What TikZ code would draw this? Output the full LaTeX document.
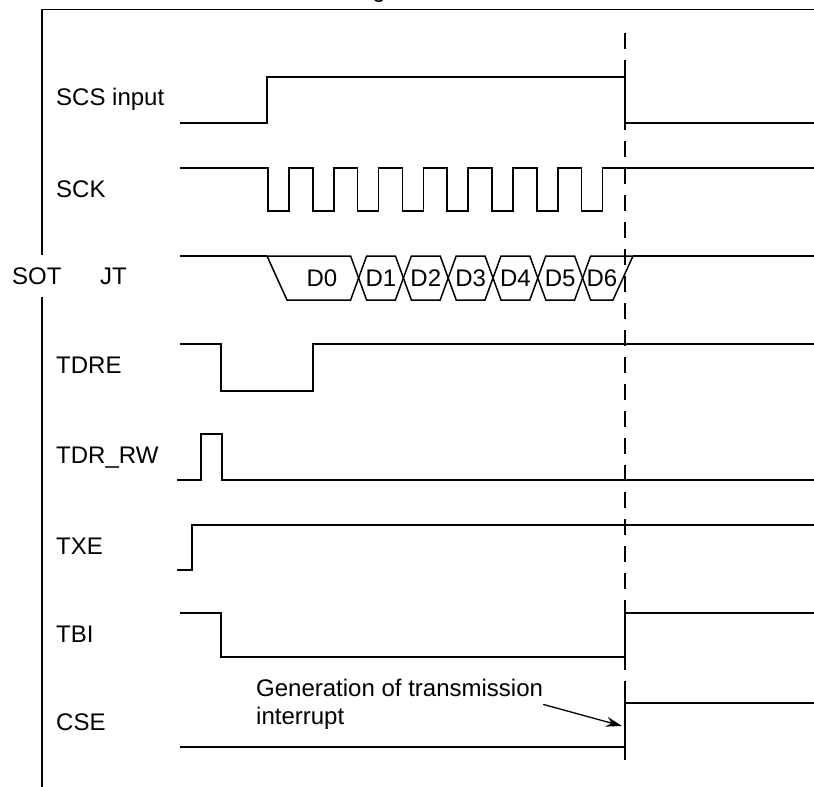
\documentclass[tikz,border=0pt]{standalone}
\usepackage{fontspec}
\setmainfont{Liberation Sans}
\usetikzlibrary{arrows.meta}

\begin{document}
\begin{tikzpicture}[x=1pt,y=-1pt,
  wave/.style={line width=1.5pt,line join=miter},
  lab/.style={anchor=base west,inner sep=0pt,font=\fontsize{24}{28}\selectfont},
  dat/.style={inner sep=0pt,font=\fontsize{24}{28}\selectfont},
]
\clip (0,0) rectangle (814,787);
% frame
\draw[wave] (42,255) -- (42,9.5) -- (814,9.5);
\draw[wave] (42,297) -- (42,787);
\node[dat,anchor=base] (title) at (379,-2) {g};
% end of frame marker
\draw[wave,dash pattern=on 16pt off 11pt] (625,33) -- (625,760);
% signal names
\node[lab] (scs) at (56,105) {SCS input};
\node[lab] (sck) at (56,197) {SCK};
\node[lab] (sot) at (12,284) {SOT};
\node[lab] (sotb) at (100,284) {JT};
\node[lab] (tdre) at (56,373) {TDRE};
\node[lab] (tdrrw) at (56,463) {TDR\_RW};
\node[lab] (txe) at (56,554) {TXE};
\node[lab] (tbi) at (56,642) {TBI};
\node[lab] (cse) at (56,730) {CSE};
% SCS input
\draw[wave] (180,123) -- (267,123) -- (267,77) -- (625,77) -- (625,123) -- (814,123);
% SCK
\draw[wave] (180,168) foreach \i in {0,...,7}{ -- ({268+44.8*\i},168) -- ++(0,43) -- ++(21,0) -- ++(0,-43) } -- (814,168);
% SOT output
\draw[wave] (180,256) -- (267,256);
\draw[wave] (267,256) -- (350.6,256) -- (358.6,278) -- (350.6,300) -- (287,300) -- cycle;
\node[dat] (d0) at (322,278) {D0};
\foreach \j [evaluate=\j as \a using 358.6+44.8*(\j-1), evaluate=\j as \b using 358.6+44.8*\j] in {1,...,5}{
  \draw[wave] (\a,278) -- (\a+8,256) -- (\b-8,256) -- (\b,278) -- (\b-8,300) -- (\a+8,300) -- cycle;
  \node[dat] (d\j) at ({(\a+\b)/2},278) {D\j};
}
\draw[wave] (582.6,278) -- (590.6,256) -- (633,256) -- (613,300) -- (590.6,300) -- cycle;
\node[dat] (d6) at (602,278) {D6};
\draw[wave] (633,256) -- (814,256);
% TDRE
\draw[wave] (180,344) -- (221,344) -- (221,391) -- (313,391) -- (313,344) -- (814,344);
% TDR_RW
\draw[wave] (177,480) -- (201,480) -- (201,434) -- (222,434) -- (222,480) -- (814,480);
% TXE
\draw[wave] (177,570) -- (192,570) -- (192,525) -- (814,525);
% TBI
\draw[wave] (180,613) -- (221,613) -- (221,657) -- (625,657) -- (625,613) -- (814,613);
% CSE
\draw[wave] (180,747) -- (625,747) -- (625,703) -- (814,703);
\draw[wave] (625,686) -- (625,760);
% interrupt note
\node[dat,anchor=north west,align=left] (gen) at (256,679) {Generation of transmission\\interrupt};
\coordinate (irq) at (622,726);
\draw[line width=1.3pt,-{Stealth[length=16pt,width=10pt]}] (gen.east) -- (irq);
\end{tikzpicture}
\end{document}
